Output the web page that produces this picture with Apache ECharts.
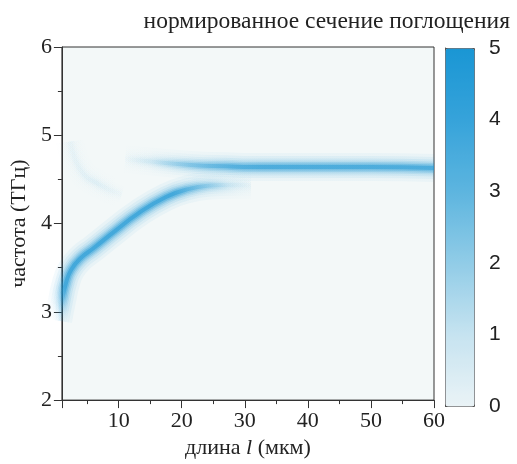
<!DOCTYPE html>
<html>
<head>
<meta charset="utf-8">
<script src="https://cdn.jsdelivr.net/npm/echarts@6/dist/echarts.min.js"></script>
<style>
  html, body { margin: 0; padding: 0; background: #ffffff; }
  #chart { width: 517px; height: 464px; }
</style>
</head>
<body>
<div id="chart"></div>
<script>
// ridge positions: length l (мкм) -> frequency (ТГц)
// (first lower point sits just left of the frame, where the curve runs into the axis)
const lowerL = [0.4, 1, 1.7, 2.5, 4, 6, 9.5, 13, 17.5, 21, 24.5, 28, 31];
const lowerF = [2.9, 3.12, 3.34, 3.48, 3.61, 3.72, 3.92, 4.11, 4.30, 4.39, 4.43, 4.44, 4.44];
const upperL = [11, 17, 22, 27, 31, 40, 50, 60];
const upperF = [4.73, 4.69, 4.66, 4.65, 4.64, 4.64, 4.64, 4.63];
const faintL = [2.3, 4, 7, 10.5];
const faintF = [4.93, 4.6, 4.44, 4.33];
const colorTicks = [0, 1, 2, 3, 4, 5];

const serif = "'Liberation Serif', 'DejaVu Serif', serif";
const sans = "'Liberation Sans', Arial, sans-serif";

function pairs(xs, ys) {
  return xs.map((x, i) => [x, ys[i]]);
}

// gradient over the branch's box, so it can fade in / out
function fade(dir, stops, k) {
  return new echarts.graphic.LinearGradient(dir[0], dir[1], dir[2], dir[3],
    stops.map(s => ({ offset: s[0], color: "rgba(27,150,212," + (s[1] * k).toFixed(3) + ")" })));
}

// stacked strokes, wide & faint to narrow & strong, give a soft profile
const layers = [
  { w: 28, a: 0.05 },
  { w: 22, a: 0.07 },
  { w: 17, a: 0.10 },
  { w: 13, a: 0.14 },
  { w: 10, a: 0.20 },
  { w: 7, a: 0.30 },
  { w: 4, a: 0.50 },
];

function branch(xs, ys, dir, stops, k) {
  return layers.map(l => ({
    type: "line",
    data: pairs(xs, ys),
    smooth: true,
    symbol: "none",
    silent: true,
    clip: true,
    lineStyle: { width: l.w, color: fade(dir, stops, l.a * k), cap: "butt" },
  }));
}

const chart = echarts.init(document.getElementById("chart"));

const series = []
  .concat(branch(faintL, faintF, [0, 0, 1, 0], [[0, 0.1], [0.5, 0.2], [1, 0.05]], 0.35))
  .concat(branch(lowerL, lowerF, [0, 1, 1, 0], [[0, 0], [0.07, 0.25], [0.12, 1], [0.7, 1], [0.8, 0.55], [0.9, 0.15], [1, 0]], 1))
  .concat(branch(upperL, upperF, [0, 0, 1, 0], [[0, 0], [0.1, 0.15], [0.22, 0.55], [0.35, 0.9], [0.45, 1], [1, 1]], 0.9));

// empty series just for the colour bar
series.push({ type: "scatter", xAxisIndex: 1, yAxisIndex: 1, data: [] });

const option = {
  animation: false,
  title: {
    text: "нормированное сечение поглощения",
    right: 2,
    top: 5,
    textStyle: { fontFamily: serif, fontSize: 23.5, fontWeight: "normal", color: "#222" },
  },
  grid: [
    { left: 60, right: 83, top: 47, bottom: 57, show: true, backgroundColor: "#f3f8f8", borderColor: "#333", borderWidth: 1 },
    { left: 445, width: 29, top: 48, height: 358, show: false },
  ],
  xAxis: [
    {
      type: "value",
      min: 1,
      max: 60,
      name: "{n|длина }{i|l}{n| (мкм)}",
      nameLocation: "middle",
      nameGap: 29,
      nameTextStyle: {
        rich: {
          n: { fontFamily: serif, fontSize: 22, color: "#222" },
          i: { fontFamily: serif, fontSize: 22, fontStyle: "italic", color: "#222" },
        },
      },
      axisLine: { lineStyle: { color: "#333" } },
      axisTick: { length: 8, lineStyle: { color: "#333" } },
      minorTick: { show: true, splitNumber: 2, length: 4, lineStyle: { color: "#333" } },
      axisLabel: { showMinLabel: false, fontFamily: serif, fontSize: 22, color: "#222", margin: 10 },
      splitLine: { show: false },
    },
    { gridIndex: 1, type: "value", min: 0, max: 1, show: false },
  ],
  yAxis: [
    {
      type: "value",
      min: 2,
      max: 6,
      interval: 1,
      name: "частота (ТГц)",
      nameLocation: "middle",
      nameGap: 29,
      nameTextStyle: { fontFamily: serif, fontSize: 22, color: "#222" },
      axisLine: { show: true, lineStyle: { color: "#333" } },
      axisTick: { show: true, length: 8, lineStyle: { color: "#333" } },
      minorTick: { show: true, splitNumber: 2, length: 4, lineStyle: { color: "#333" } },
      axisLabel: { fontFamily: serif, fontSize: 22, color: "#222", margin: 10 },
      splitLine: { show: false },
    },
    {
      gridIndex: 1,
      type: "value",
      position: "right",
      min: 0,
      max: 5,
      interval: 1,
      axisLine: { show: true, lineStyle: { color: "#555" } },
      axisTick: { show: true, inside: false, length: 7, lineStyle: { color: "#555" } },
      axisLabel: { fontFamily: sans, fontSize: 21, color: "#222", margin: 15,
        formatter: v => colorTicks.indexOf(v) >= 0 ? String(v) : "" },
      splitLine: { show: false },
    },
  ],
  visualMap: {
    type: "continuous",
    seriesIndex: series.length - 1,
    min: 0,
    max: 5,
    calculable: false,
    hoverLink: false,
    left: 445,
    top: 48,
    itemWidth: 29,
    itemHeight: 358,
    padding: 0,
    borderColor: "#555",
    borderWidth: 1,
    text: null,
    inRange: { color: ["#eaf3f6", "#c6e3f0", "#91cce7", "#5db5df", "#36a3da", "#1a96d4"] },
  },
  series: series,
};

chart.setOption(option);
</script>
</body>
</html>
